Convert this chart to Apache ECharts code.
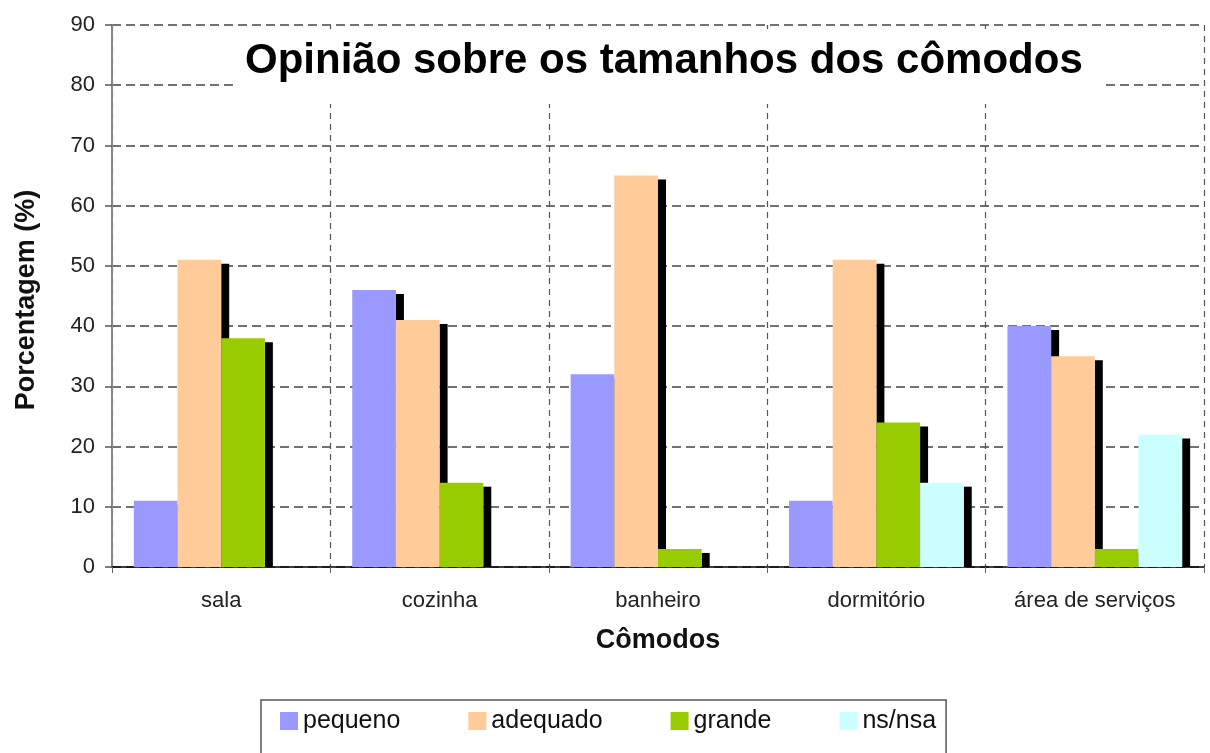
<!DOCTYPE html>
<html>
<head>
<meta charset="utf-8">
<script src="https://cdn.jsdelivr.net/npm/echarts@6/dist/echarts.min.js"></script>
<style>html,body{margin:0;padding:0;background:#fff;}#c{width:1210px;height:753px;}</style>
</head>
<body>
<div id="c"></div>
<script>
const categories = ['sala', 'cozinha', 'banheiro', 'dormitório', 'área de serviços'];
const seriesNames = ['pequeno', 'adequado', 'grande', 'ns/nsa'];
const pequeno = [11, 46, 32, 11, 40];
const adequado = [51, 41, 65, 51, 35];
const grande = [38, 14, 3, 24, 3];
const nsNsa = [0, 0, 0, 14, 22];
const yTicks = { min: 0, max: 90, interval: 10 };

const seriesData = [pequeno, adequado, grande, nsNsa];
const colors = ['#9999ff', '#ffcc99', '#99cc00', '#ccffff'];
const FONT = '"Liberation Sans", Arial, sans-serif';
const CAT_GAP = 0.2;

const chart = echarts.init(document.getElementById('c'));

function shadowSeries(idx) {
  return {
    type: 'custom',
    name: seriesNames[idx] + ' sombra',
    z: 1,
    silent: true,
    data: seriesData[idx].map((v, i) => [i, v]),
    encode: { x: 0, y: 1 },
    renderItem: function (params, api) {
      const v = api.value(1);
      if (!(v > 0)) return null;
      const c = api.coord([api.value(0), v]);
      const b = api.coord([api.value(0), 0]);
      const band = api.size([1, 0])[0];
      const bw = band * (1 - CAT_GAP) / seriesData.length;
      const right = c[0] - band * (1 - CAT_GAP) / 2 + (idx + 1) * bw;
      const top = c[1] + 4;
      return {
        type: 'rect',
        shape: { x: right, y: top, width: 8, height: Math.max(0, b[1] - top) },
        style: { fill: '#000' }
      };
    }
  };
}

const series = [];
seriesData.forEach((d, i) => {
  series.push({
    type: 'bar',
    name: seriesNames[i],
    data: d,
    z: 2,
    barGap: '0%',
    barCategoryGap: (CAT_GAP * 100) + '%',
    itemStyle: { color: colors[i] }
  });
});
seriesData.forEach((d, i) => series.push(shadowSeries(i)));

chart.setOption({
  animation: false,
  backgroundColor: '#fff',
  textStyle: { fontFamily: FONT },
  title: {
    text: 'Opinião sobre os tamanhos dos cômodos',
    left: 237,
    top: 29,
    padding: [8, 22, 19, 8],
    backgroundColor: '#fff',
    z: 10,
    textStyle: { fontFamily: FONT, fontSize: 42, fontWeight: 'bold', color: '#000', lineHeight: 48 }
  },
  legend: {
    data: seriesNames,
    left: 261,
    top: 700,
    orient: 'horizontal',
    borderColor: '#555',
    borderWidth: 1.5,
    padding: [6, 10, 40, 19],
    itemGap: 68,
    itemWidth: 18,
    itemHeight: 18,
    icon: 'rect',
    textStyle: { fontFamily: FONT, fontSize: 25, color: '#111', lineHeight: 30 }
  },
  grid: { left: 112, right: 6, top: 25, bottom: 186, containLabel: false },
  xAxis: {
    type: 'category',
    data: categories,
    name: 'Cômodos',
    nameLocation: 'middle',
    nameGap: 60,
    nameTextStyle: { fontFamily: FONT, fontSize: 27, fontWeight: 'bold', color: '#111' },
    axisLine: { lineStyle: { color: '#000', width: 1.5 } },
    axisTick: { show: true, length: 6, lineStyle: { color: '#666' } },
    axisLabel: { margin: 23, fontSize: 22, color: '#222', fontFamily: FONT },
    splitLine: { show: true, lineStyle: { color: '#555', width: 1.2, type: [6, 5] } }
  },
  yAxis: {
    type: 'value',
    min: yTicks.min,
    max: yTicks.max,
    interval: yTicks.interval,
    name: 'Porcentagem (%)',
    nameLocation: 'middle',
    nameGap: 72,
    nameTextStyle: { fontFamily: FONT, fontSize: 27, fontWeight: 'bold', color: '#111', padding: [0, 8, 0, 0] },
    axisLine: { show: true, lineStyle: { color: '#888', width: 2 } },
    axisTick: { show: true, length: 7, lineStyle: { color: '#555', width: 1.5 } },
    axisLabel: { margin: 17, fontSize: 22, color: '#222', fontFamily: FONT },
    splitLine: { show: true, lineStyle: { color: '#444', width: 1.5, type: [9, 5] } }
  },
  series: series
});
</script>
</body>
</html>
